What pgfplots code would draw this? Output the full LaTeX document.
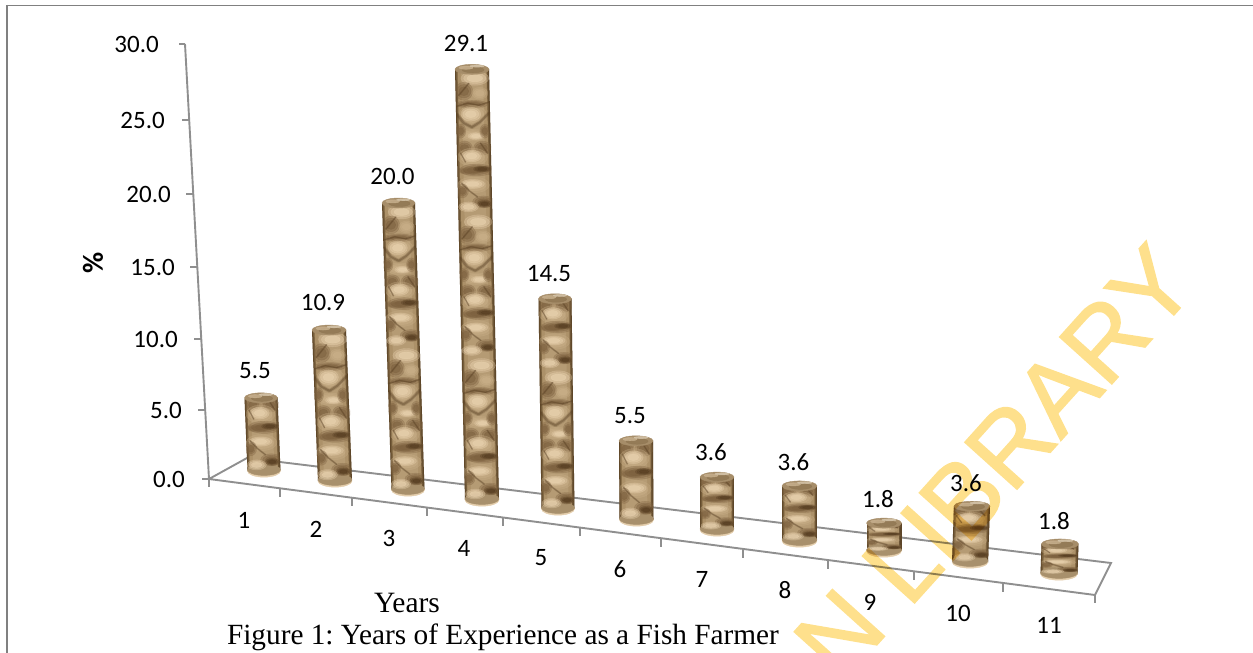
\documentclass[border=0pt]{standalone}
\usepackage{fontspec}
\usepackage{pgfplots}
\pgfplotsset{compat=1.18}
\setmainfont{Liberation Serif}
\newfontfamily\calib{Carlito}
\newfontfamily\wmfont[FakeBold=1.4]{Liberation Sans}
\frenchspacing
\definecolor{axisgray}{HTML}{8F8F8F}
\definecolor{framegray}{HTML}{808080}
\definecolor{wm}{HTML}{FEE08C}
\definecolor{creamy}{HTML}{EAD3B0}
\definecolor{sand}{HTML}{CBB18A}
\definecolor{crease}{HTML}{553C20}
\definecolor{umber}{HTML}{7E6240}
\tikzset{HTML/.code={\definecolor{tmpc}{HTML}{#1}\pgfkeysalso{color=tmpc}}}

% Soft-edged patch: x, y, x radius, y radius, angle, colour.
\newcommand{\blob}[6]{%
  \fill[#6,opacity=.3,rotate around={#5:(#1,#2)}] (#1,#2) ellipse [x radius=#3,y radius=#4];
  \fill[#6,opacity=.4,rotate around={#5:(#1,#2)}] (#1,#2) ellipse [x radius=.8*#3,y radius=.75*#4];
  \fill[#6,opacity=.55,rotate around={#5:(#1,#2)}] (#1,#2) ellipse [x radius=.55*#3,y radius=.5*#4];
}
% Soft crease along a path.
\newcommand{\fold}[2]{%
  \draw[crease,opacity=.2,line width=1.9*#1pt] #2;
  \draw[crease,opacity=.35,line width=#1pt] #2;
}
% Keeps a repeat of the surface inside the cylinder's width.
\newcommand{\sideclip}{%
  \pgfpathrectangle{\pgfqpoint{-16.5pt}{-37pt}}{\pgfqpoint{33pt}{74pt}}\pgfusepath{clip}%
}

% Two repeats of the crumpled surface, 34 wide and 72 high around their centres.
\pgfdeclareplotmark{crumpleA}{%
  \begin{scope}[x=1pt,y=1pt,line cap=round,line join=round]
    \sideclip
    \blob{-10}{29}{8}{7}{0}{umber}
    \blob{8}{29}{9}{7}{20}{umber}
    \blob{-2}{20}{15}{9}{-5}{sand}
    \blob{-3}{21}{10}{6}{-5}{creamy}
    \blob{2}{7}{17}{6}{5}{umber}
    \blob{-5}{6}{11}{3.5}{0}{umber}
    \blob{8}{8}{9}{3}{10}{crease}
    \blob{-1}{-8}{16}{8}{-32}{sand}
    \blob{-2}{-7}{12}{4.5}{-32}{creamy}
    \blob{-12}{-14}{6}{7}{0}{umber}
    \blob{9}{-25}{11}{6}{-30}{umber}
    \blob{10}{-27}{7}{3.5}{-30}{crease}
    \blob{-6}{-30}{10}{5}{-12}{creamy}
    \fold{1}{(-13,-6)--(-5,-14)--(3,-20)}
    \fold{.9}{(-14,24)--(-9,15)}
    \fold{.9}{(6,34)--(13,24)}
  \end{scope}}
\pgfdeclareplotmark{crumpleB}{%
  \begin{scope}[x=1pt,y=1pt,line cap=round,line join=round]
    \sideclip
    \blob{2}{27}{14}{7}{-20}{creamy}
    \blob{-9}{14}{9}{9}{20}{umber}
    \blob{7}{12}{8}{6}{-35}{sand}
    \blob{-1}{1}{16}{4}{0}{umber}
    \blob{0}{-10}{14}{10}{0}{sand}
    \blob{-2}{-9}{10}{7}{25}{creamy}
    \blob{0}{-30}{13}{6}{0}{sand}
    \blob{3}{-31}{8}{3.5}{30}{creamy}
    \blob{-12}{-26}{5}{7}{0}{umber}
    \blob{12}{-26}{5}{7}{0}{umber}
    \fold{2}{(-16,-9)--(-9,-18)--(-1,-22)--(7,-17)--(16,-8)}
    \fold{1}{(-14,10)--(-4,22)}
    \fold{1}{(-16,-1)--(-5,2)--(6,0)--(16,3)}
  \end{scope}}

% Upper face of a cylinder.
\pgfdeclareplotmark{capface}{%
  \begin{scope}[x=1pt,y=1pt]
    \fill[HTML=A68D69] (0,0) ellipse [x radius=17,y radius=5];
    \fill[HTML=8D7450,opacity=.7] (1,-.5) ellipse [x radius=11,y radius=3];
    \fill[HTML=C9B290,opacity=.8] (-6,1.6) ellipse [x radius=7,y radius=1.6];
    \fill[HTML=D8C8AE,opacity=.8] (5,3.2) ellipse [x radius=7,y radius=1];
  \end{scope}}

% Lower rim of a cylinder.
\pgfdeclareplotmark{rimface}{%
  \begin{scope}[x=1pt,y=1pt]
    \fill[HTML=E3CDAC] (0,0) ellipse [x radius=17,y radius=6.2];
    \fill[HTML=A8906C] (0,1.2) ellipse [x radius=17,y radius=5.6];
  \end{scope}}

% Cylinder: base x, top x, base y, value, pixels per percent, width.
\newcommand{\cyl}[6]{%
  \pgfmathsetmacro{\cylH}{#4*#5}%
  \pgfmathsetmacro{\cylTop}{#3-\cylH}%
  \pgfmathtruncatemacro{\cylN}{max(1,round(\cylH/72))}%
  \pgfmathsetmacro{\cylYS}{\cylH/(\cylN*72)}%
  \pgfmathsetmacro{\cylXS}{#6/34}%
  \pgfmathsetmacro{\lblUp}{27.5-(#2-262)*0.0063}%
  \gdef\cylPtsA{}\gdef\cylPtsB{}%
  \foreach \k in {1,...,\cylN}{%
    \pgfmathsetmacro{\f}{(\k-.5)/\cylN}%
    \pgfmathsetmacro{\px}{#1+(#2-#1)*\f}%
    \pgfmathsetmacro{\py}{#3-\cylH*\f}%
    \ifodd\k\relax\xdef\cylPtsA{\cylPtsA (\px,\py)}\else\xdef\cylPtsB{\cylPtsB (\px,\py)}\fi
  }%
  \pgfmathsetmacro{\wA}{#6}\pgfmathsetmacro{\wB}{#6*.94}\pgfmathsetmacro{\wC}{#6*.84}%
  \pgfmathsetmacro{\wD}{#6*.64}%
  \pgfmathsetmacro{\lb}{#1-#6/2+1.1}\pgfmathsetmacro{\lt}{#2-#6/2+1.1}%
  \pgfmathsetmacro{\rb}{#1+#6/2-1.1}\pgfmathsetmacro{\rt}{#2+#6/2-1.1}%
  \edef\cylDraw{%
    \noexpand\addplot[only marks,mark=rimface,mark options={xscale=\cylXS}] coordinates {(#1,#3)};
    \noexpand\addplot[HTML=705634,line width=\wA pt] coordinates {(#1,#3)(#2,\cylTop)};
    \noexpand\addplot[HTML=957A52,line width=\wB pt] coordinates {(#1,#3)(#2,\cylTop)};
    \noexpand\addplot[HTML=AC9169,line width=\wC pt] coordinates {(#1,#3)(#2,\cylTop)};
    \noexpand\addplot[HTML=B59B74,line width=\wD pt] coordinates {(#1,#3)(#2,\cylTop)};
    \noexpand\addplot[only marks,mark=crumpleA,mark options={xscale=\cylXS,yscale=\cylYS}] coordinates {\cylPtsA};
    \ifnum\cylN>1
      \noexpand\addplot[only marks,mark=crumpleB,mark options={xscale=\cylXS,yscale=\cylYS}] coordinates {\cylPtsB};
    \fi
    \noexpand\addplot[HTML=4F3A20,opacity=.45,line width=2.2pt] coordinates {(\lb,#3)(\lt,\cylTop)};
    \noexpand\addplot[HTML=4F3A20,opacity=.55,line width=2.2pt] coordinates {(\rb,#3)(\rt,\cylTop)};
    \noexpand\addplot[only marks,mark=capface,mark options={xscale=\cylXS},
      nodes near coords={#4},value label=\lblUp] coordinates {(#2,\cylTop)};
  }%
  \cylDraw
}

\pgfplotsset{
  value label/.style={nodes near coords style={
      font=\fontsize{25}{30}\calib,text=black,anchor=center,xshift=-6pt,yshift=#1pt}},
  gridline/.style={axisgray,line width=1.9pt,forget plot},
}

\begin{document}
\begin{tikzpicture}
\path[use as bounding box] (0,0) rectangle (1253pt,653pt);
\clip (0,0) rectangle (1253pt,653pt);
% Page border
\draw[framegray,line width=1.4pt] (6pt,647.5pt)--(1253pt,647.5pt);
\draw[framegray,line width=2pt] (7pt,648pt)--(7pt,0pt);
\begin{axis}[
  at={(0,0)},anchor=south west,scale only axis,width=1253pt,height=653pt,
  xmin=0,xmax=1253,ymin=0,ymax=653,y dir=reverse,hide axis,clip=false]

% Value axis and its ticks
\addplot[gridline] coordinates {(185,44)(209,479)};
\addplot[gridline] coordinates {(179,44)(185,44)};
\addplot[gridline] coordinates {(182,120)(189,120)};
\addplot[gridline] coordinates {(186,194)(193,194)};
\addplot[gridline] coordinates {(190,267)(197,267)};
\addplot[gridline] coordinates {(194,339)(201,339)};
\addplot[gridline] coordinates {(198,410)(205,410)};
\addplot[gridline] coordinates {(202,479)(209,479)};

% Floor of the chart
\addplot[gridline] coordinates {(209,479)(247,458)(1111,563)(1095,595)(209,479)};
\addplot[gridline] coordinates {(209,479)(209,487)};
\addplot[gridline] coordinates {(280,489)(280,497)};
\addplot[gridline] coordinates {(352,498)(352,506)};
\addplot[gridline] coordinates {(427,508)(427,516)};
\addplot[gridline] coordinates {(503,518)(503,526)};
\addplot[gridline] coordinates {(580,528)(580,536)};
\addplot[gridline] coordinates {(661,539)(661,547)};
\addplot[gridline] coordinates {(743,550)(743,558)};
\addplot[gridline] coordinates {(828,561)(828,569)};
\addplot[gridline] coordinates {(914,572)(914,580)};
\addplot[gridline] coordinates {(1003,584)(1003,592)};
\addplot[gridline] coordinates {(1095,595)(1095,603)};

% Value axis labels
\foreach \yy/\xx/\lab in {44/159/30.0,120/165/25.0,194/171/20.0,267/175/15.0,339/178/10.0,410/182/5.0,479/185/0.0}{
  \edef\tmp{\noexpand\node[font=\noexpand\fontsize{25}{30}\noexpand\calib,anchor=east,inner sep=0pt] at (axis cs:\xx,\yy) {\lab};}\tmp
}
\node[font=\fontsize{29}{34}\calib\bfseries,rotate=90] at (axis cs:93,263) {\%};

% Category labels
\foreach \xx/\yy/\lab in {244/520/1,316/529/2,389/538/3,464/548/4,541/558/5,620/569/6,702/579/7,785/590/8,870/602/9,958/613/10,1049/625/11}{
  \edef\tmp{\noexpand\node[font=\noexpand\fontsize{25}{30}\noexpand\calib,inner sep=0pt] at (axis cs:\xx,\yy) {\lab};}\tmp
}

% Percentage of farmers for each number of years
\cyl{264}{261}{471}{5.5}{13.3}{33}
\cyl{335}{329}{481}{10.9}{13.85}{34}
\cyl{408}{398.5}{490}{20.0}{14.35}{33}
\cyl{482}{472}{500}{29.1}{14.8}{34}
\cyl{558}{555}{509}{14.5}{14.5}{33}
\cyl{636.5}{636}{520}{5.5}{14.4}{34}
\cyl{717}{717}{530}{3.6}{14.7}{34}
\cyl{799.5}{799.5}{541}{3.6}{15.3}{35}
\cyl{884}{884}{551}{1.8}{15.5}{35}
\cyl{970}{972}{562}{3.6}{15.5}{36}
\cyl{1059}{1060}{574}{1.8}{16.7}{37}

\node[font=\fontsize{29.5}{32}\selectfont] at (axis cs:407,603) {Years};
\node[font=\fontsize{29.3}{32}\selectfont] at (axis cs:503,637.5) {Figure 1: Years of Experience as a Fish Farmer};
\end{axis}
% Library stamp across the page
\begin{scope}[transparency group,blend mode=multiply]
\node[wm,font=\fontsize{102}{110}\wmfont,rotate=48,anchor=base east,inner sep=0pt] at (1200pt,367pt) {N LIBRARY};
\end{scope}
\end{tikzpicture}
\end{document}
